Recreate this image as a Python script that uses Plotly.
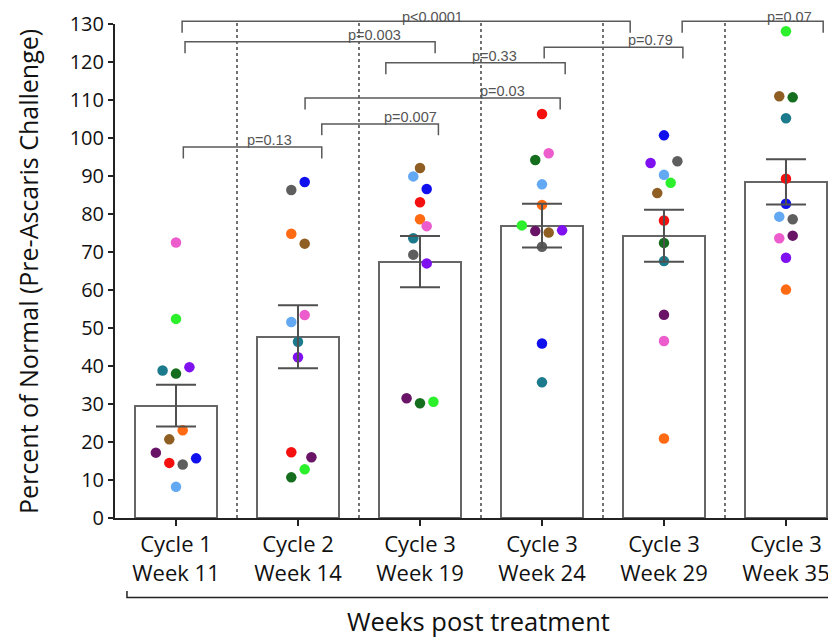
import numpy as np
import plotly.graph_objects as go

# ---- data ----
categories = ["Cycle 1<br>Week 11", "Cycle 2<br>Week 14", "Cycle 3<br>Week 19",
              "Cycle 3<br>Week 24", "Cycle 3<br>Week 29", "Cycle 3<br>Week 35"]

subjects = ["lime", "teal", "darkgreen", "violet", "orange", "brown",
            "darkpurple", "red", "gray", "blue", "lightblue", "pink"]
subject_colors = ["#2bf02b", "#1b7a8c", "#146e1e", "#7f10f0", "#ff6a12", "#8e5e22",
                  "#6a1468", "#f51010", "#5e5e5e", "#1010ee", "#62a8f2", "#ec5ccc"]

# values per timepoint, in subject order above
week11 = [52.4, 38.8, 38.0, 39.7, 23.1, 20.7, 17.2, 14.5, 14.1, 15.7, 8.2, 72.5]
week14 = [12.8, 46.4, 10.7, 42.3, 74.8, 72.2, 16.0, 17.3, 86.3, 88.4, 51.6, 53.4]
week19 = [30.6, 73.6, 30.2, 67.0, 78.6, 92.1, 31.5, 83.1, 69.3, 86.6, 89.9, 76.8]
week24 = [77.0, 35.7, 94.2, 75.7, 82.4, 75.1, 75.5, 106.3, 71.4, 45.9, 87.8, 96.0]
week29 = [88.2, 67.6, 72.4, 93.4, 20.9, 85.5, 53.5, 78.3, 93.9, 100.7, 90.3, 46.6]
week35 = [128.1, 105.2, 110.7, 68.5, 60.1, 111.0, 74.3, 89.3, 78.6, 82.7, 79.3, 73.6]
series = [week11, week14, week19, week24, week29, week35]

# horizontal jitter slots (scatter-dot spreading), per timepoint, subject order
jit11 = [0, -2, 0, 2, 1, -1, -3, -1, 1, 3, 0, 0]
jit14 = [1, 0, -1, 0, -1, 1, 2, -1, -1, 1, -1, 1]
jit19 = [2, -1, 0, 1, 0, 0, -2, 0, -1, 1, -1, 1]
jit24 = [-3, 0, -1, 3, 0, 1, -1, 0, 0, 0, 0, 1]
jit29 = [1, 0, 0, -2, 0, -1, 0, 0, 2, 0, 0, 0]
jit35 = [0, 0, 1, 0, 0, -1, 1, 0, 1, 0, -1, -1]
jitters = [jit11, jit14, jit19, jit24, jit29, jit35]

# significance brackets: left, right (category units), level (% units), label
br_left = [0.05, 0.074, 1.72, 3.018, 4.149, 1.058, 1.195, 0.06]
br_right = [3.723, 2.124, 3.19, 4.155, 5.305, 3.149, 2.151, 1.195]
br_level = [130.7, 125.3, 119.8, 123.9, 130.7, 110.5, 103.7, 97.6]
br_label = ["p<0.0001", "p=0.003", "p=0.33", "p=0.79", "p=0.07", "p=0.03", "p=0.007", "p=0.13"]
br_label_x = [2.099, 1.625, 2.608, 3.893, 5.025, 2.673, 1.919, 0.763]

Y_MAX = 130
JIT_STEP = 0.055
BR_DROP = 3.0

idx = np.arange(len(categories))
means = [float(np.mean(v)) for v in series]
sems = [float(np.std(v, ddof=1) / np.sqrt(len(v))) for v in series]

fig = go.Figure()

fig.add_trace(go.Bar(
    x=idx, y=means, width=0.672,
    marker=dict(color="white", line=dict(color="#666666", width=2)),
    showlegend=False, hoverinfo="skip"))

for s, (name, col) in enumerate(zip(subjects, subject_colors)):
    xs = [i + jitters[i][s] * JIT_STEP for i in idx]
    ys = [series[i][s] for i in idx]
    fig.add_trace(go.Scatter(
        x=xs, y=ys, mode="markers", name=name,
        marker=dict(color=col, size=10.5, line=dict(width=0)),
        showlegend=False))

fig.add_trace(go.Scatter(
    x=idx, y=means, mode="markers",
    marker=dict(size=1, color="rgba(0,0,0,0)"),
    error_y=dict(type="data", array=sems, visible=True,
                 color="#505050", thickness=2, width=20),
    showlegend=False, hoverinfo="skip"))

shapes = []
# dotted separators between groups
for i in range(len(categories) - 1):
    shapes.append(dict(type="line", xref="x", yref="paper",
                       x0=i + 0.5, x1=i + 0.5, y0=0, y1=131 / Y_MAX,
                       line=dict(color="#444444", width=1.5, dash="dot")))

annotations = []
for l, r, lv, lab, lx in zip(br_left, br_right, br_level, br_label, br_label_x):
    top = lv / Y_MAX
    bot = (lv - BR_DROP) / Y_MAX
    shapes.append(dict(type="path", xref="x", yref="paper",
                       path=f"M {l},{bot} L {l},{top} L {r},{top} L {r},{bot}",
                       line=dict(color="#5a5a5a", width=1.5)))
    lift = 1.9 if lv < Y_MAX else 1.2
    annotations.append(dict(x=lx, y=(lv + lift) / Y_MAX, xref="x", yref="paper",
                            text=lab, showarrow=False, xanchor="center", yanchor="middle",
                            borderpad=0,
                            font=dict(family="Liberation Sans, Arial", size=14.5, color="#555555")))

# bracket under the x tick labels
shapes.append(dict(type="path", xref="paper", yref="paper",
                   path="M 0.0166,-0.1478 L 0.0166,-0.1609 L 0.994,-0.1609 L 0.994,-0.1478",
                   line=dict(color="#222222", width=1.5)))

annotations.append(dict(x=0.5035, y=-0.2095, xref="paper", yref="paper",
                        text="Weeks post treatment", showarrow=False,
                        xanchor="center", yanchor="middle",
                        font=dict(family="Open Sans", size=25.5, color="#111111")))
annotations.append(dict(x=-0.1207, y=0.5, xref="paper", yref="paper",
                        text="Percent of Normal (Pre-Ascaris Challenge)", showarrow=False,
                        textangle=-90, xanchor="center", yanchor="middle",
                        font=dict(family="Open Sans", size=25, color="#111111")))

# page body has an 8px default margin, so the figure is 8px smaller than the window
fig.update_layout(
    width=828, height=630,
    margin=dict(l=107, r=0, t=16, b=120),
    plot_bgcolor="white", paper_bgcolor="white",
    bargap=0,
    shapes=shapes, annotations=annotations,
    font=dict(family="Open Sans", color="#111111"),
    xaxis=dict(range=[-0.5, 5.41], tickvals=list(idx), ticktext=categories,
               ticks="outside", ticklen=6, tickwidth=2, tickcolor="#222222",
               showline=True, linecolor="#222222", linewidth=2,
               showgrid=False, zeroline=False,
               tickfont=dict(family="Open Sans", size=22, color="#111111")),
    yaxis=dict(range=[0, Y_MAX], dtick=10, tick0=0,
               ticks="outside", ticklen=5, tickwidth=2, tickcolor="#222222",
               showline=True, linecolor="#222222", linewidth=2,
               showgrid=False, zeroline=False,
               tickfont=dict(family="Open Sans", size=20, color="#111111")),
)

fig.write_html("out.html")
